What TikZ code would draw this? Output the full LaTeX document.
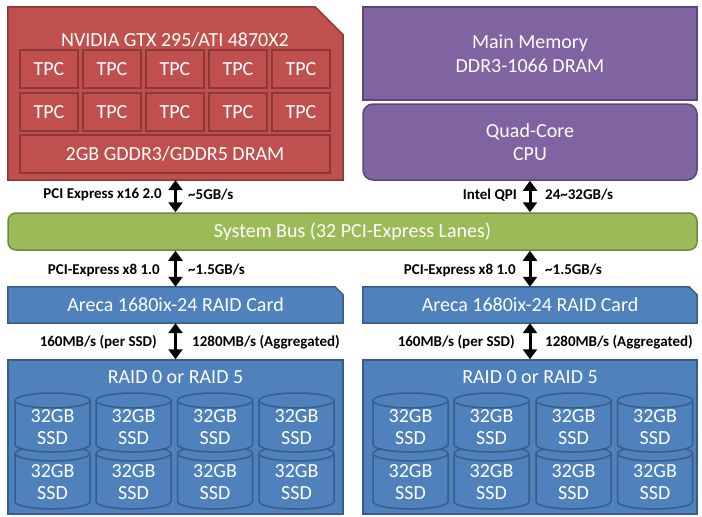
\documentclass[tikz,border=0pt]{standalone}
\usepackage{fontspec}
\setmainfont{Carlito}
\usetikzlibrary{arrows.meta,calc,backgrounds}
\definecolor{redf}{HTML}{C0504D}
\definecolor{redd}{HTML}{8C3836}
\definecolor{purf}{HTML}{8064A2}
\definecolor{purd}{HTML}{5C4776}
\definecolor{grnf}{HTML}{9BBB59}
\definecolor{grnd}{HTML}{71893F}
\definecolor{bluf}{HTML}{4F81BD}
\definecolor{blud}{HTML}{385D8A}
\begin{document}
\begin{tikzpicture}[x=1pt,y=-1pt,
  bigfont/.style={font=\fontsize{20}{23.5}\selectfont},
  box/.style={draw, line width=1.5pt, inner sep=0pt, text=white, align=center, bigfont},
  redbox/.style={box, fill=redf, draw=redd},
  purbox/.style={box, fill=purf, draw=purd},
  grnbox/.style={box, fill=grnf, draw=grnd},
  blubox/.style={box, fill=bluf, draw=blud},
  tpc/.style={redbox, line width=1.2pt, minimum width=58pt, minimum height=38pt},
  ghost/.style={inner sep=0pt, text=white, align=center, bigfont},
  lbl/.style={font=\bfseries\fontsize{15}{18}\selectfont, text=black, inner sep=0pt},
  biarrow/.style={line width=3pt, {Triangle[width=14pt,length=10pt]}-{Triangle[width=14pt,length=10pt]}},
  cyl/.style={fill=bluf, draw=blud, line width=1.5pt},
  ssdtxt/.style={inner sep=0pt, text=white, align=center, font=\fontsize{20}{22}\selectfont}
]
\useasboundingbox (0,0) rectangle (702,517);

% GPU
\node[ghost, minimum width=335pt, minimum height=173pt] (gpu) at (175.5,93.5) {};
\begin{scope}[on background layer]
\filldraw[fill=redf, draw=redd, line width=1.5pt]
  (gpu.north west) -- ($(gpu.north east)+(-28,0)$) -- ($(gpu.north east)+(0,28)$)
  -- (gpu.south east) -- (gpu.south west) -- cycle;
\end{scope}
\node[ghost] (gputitle) at (175,40) {NVIDIA GTX 295/ATI 4870X2};
\foreach \i/\x in {1/49,2/112,3/175,4/238,5/301}{
  \node[tpc] (tpca\i) at (\x,69) {TPC};
  \node[tpc] (tpcb\i) at (\x,112) {TPC};
}
\node[tpc, minimum width=310pt] (gram) at (175,154) {2GB GDDR3/GDDR5 DRAM};

% Memory and CPU
\node[purbox, minimum width=334pt, minimum height=93pt] (mem) at (530,53.5) {Main Memory\\DDR3-1066 DRAM};
\node[purbox, rounded corners=10pt, minimum width=334pt, minimum height=76pt] (cpu) at (530,142) {Quad-Core\\CPU};

% Bus
\node[grnbox, rounded corners=8pt, minimum width=689pt, minimum height=37pt] (bus) at (352.5,231.5) {System Bus (32 PCI-Express Lanes)};

% RAID cards
\node[ghost, minimum width=335pt, minimum height=36pt] (card1) at (175.5,305) {Areca 1680ix-24 RAID Card};
\node[ghost, minimum width=334pt, minimum height=36pt] (card2) at (530,305) {Areca 1680ix-24 RAID Card};
\begin{scope}[on background layer]
\foreach \c in {card1,card2}{
  \filldraw[fill=bluf, draw=blud, line width=1.5pt]
    (\c.north west) -- ($(\c.north east)+(-8,0)$) -- ($(\c.north east)+(0,8)$)
    -- (\c.south east) -- (\c.south west) -- cycle;
}
\end{scope}

% RAID arrays
\node[blubox, minimum width=335pt, minimum height=154pt] (raid1) at (175.5,437) {};
\node[blubox, minimum width=334pt, minimum height=154pt] (raid2) at (530,437) {};
\node[ghost] (raidt1) at (175.5,377) {RAID 0 or RAID 5};
\node[ghost] (raidt2) at (530,377) {RAID 0 or RAID 5};

\foreach \r/\cy/\hh in {2/477.5/31.5,1/422.5/29.5}{
  \foreach \c/\cx in {1/52.5,2/133.5,3/215,4/296.5,5/410.5,6/491.5,7/573.5,8/655}{
    \coordinate (cyl\r\c) at (\cx,\cy);
    \filldraw[cyl] ($(cyl\r\c)+(-37.5,-\hh+7.5)$) -- ($(cyl\r\c)+(-37.5,\hh-7.5)$)
      arc[start angle=180,end angle=360,x radius=37.5pt,y radius=7.5pt]
      -- ($(cyl\r\c)+(37.5,-\hh+7.5)$)
      arc[start angle=0,end angle=180,x radius=37.5pt,y radius=7.5pt] -- cycle;
    \draw[cyl, fill=none] ($(cyl\r\c)+(-37.5,-\hh+7.5)$)
      arc[start angle=180,end angle=360,x radius=37.5pt,y radius=7.5pt];
    \node[ssdtxt] (ssd\r\c) at ($(cyl\r\c)+(0,5)$) {32GB\\SSD};
  }
}

% Arrows
\draw[biarrow] (gpu.south) -- (gpu.south |- bus.north);
\draw[biarrow] (cpu.south) -- (cpu.south |- bus.north);
\draw[biarrow] (card1.north |- bus.south) -- (card1.north);
\draw[biarrow] (card2.north |- bus.south) -- (card2.north);
\draw[biarrow] (card1.south) -- (raid1.north);
\draw[biarrow] (card2.south) -- (raid2.north);

% Labels
\node[lbl, anchor=east] (la1) at (162,195) {PCI Express x16 2.0};
\node[lbl, anchor=west] (lb1) at (188,195) {\textasciitilde 5GB/s};
\node[lbl, anchor=east] (la2) at (517,195) {Intel QPI};
\node[lbl, anchor=west] (lb2) at (545,195) {24\textasciitilde 32GB/s};
\node[lbl, anchor=east] (la3) at (160,270) {PCI-Express x8 1.0};
\node[lbl, anchor=west] (lb3) at (188,270) {\textasciitilde 1.5GB/s};
\node[lbl, anchor=east] (la4) at (516,270) {PCI-Express x8 1.0};
\node[lbl, anchor=west] (lb4) at (545,270) {\textasciitilde 1.5GB/s};
\node[lbl, anchor=east] (la5) at (157,342) {160MB/s (per SSD)};
\node[lbl, anchor=west] (lb5) at (192,342) {1280MB/s (Aggregated)};
\node[lbl, anchor=east] (la6) at (515,342) {160MB/s (per SSD)};
\node[lbl, anchor=west] (lb6) at (545,342) {1280MB/s (Aggregated)};
\end{tikzpicture}
\end{document}
